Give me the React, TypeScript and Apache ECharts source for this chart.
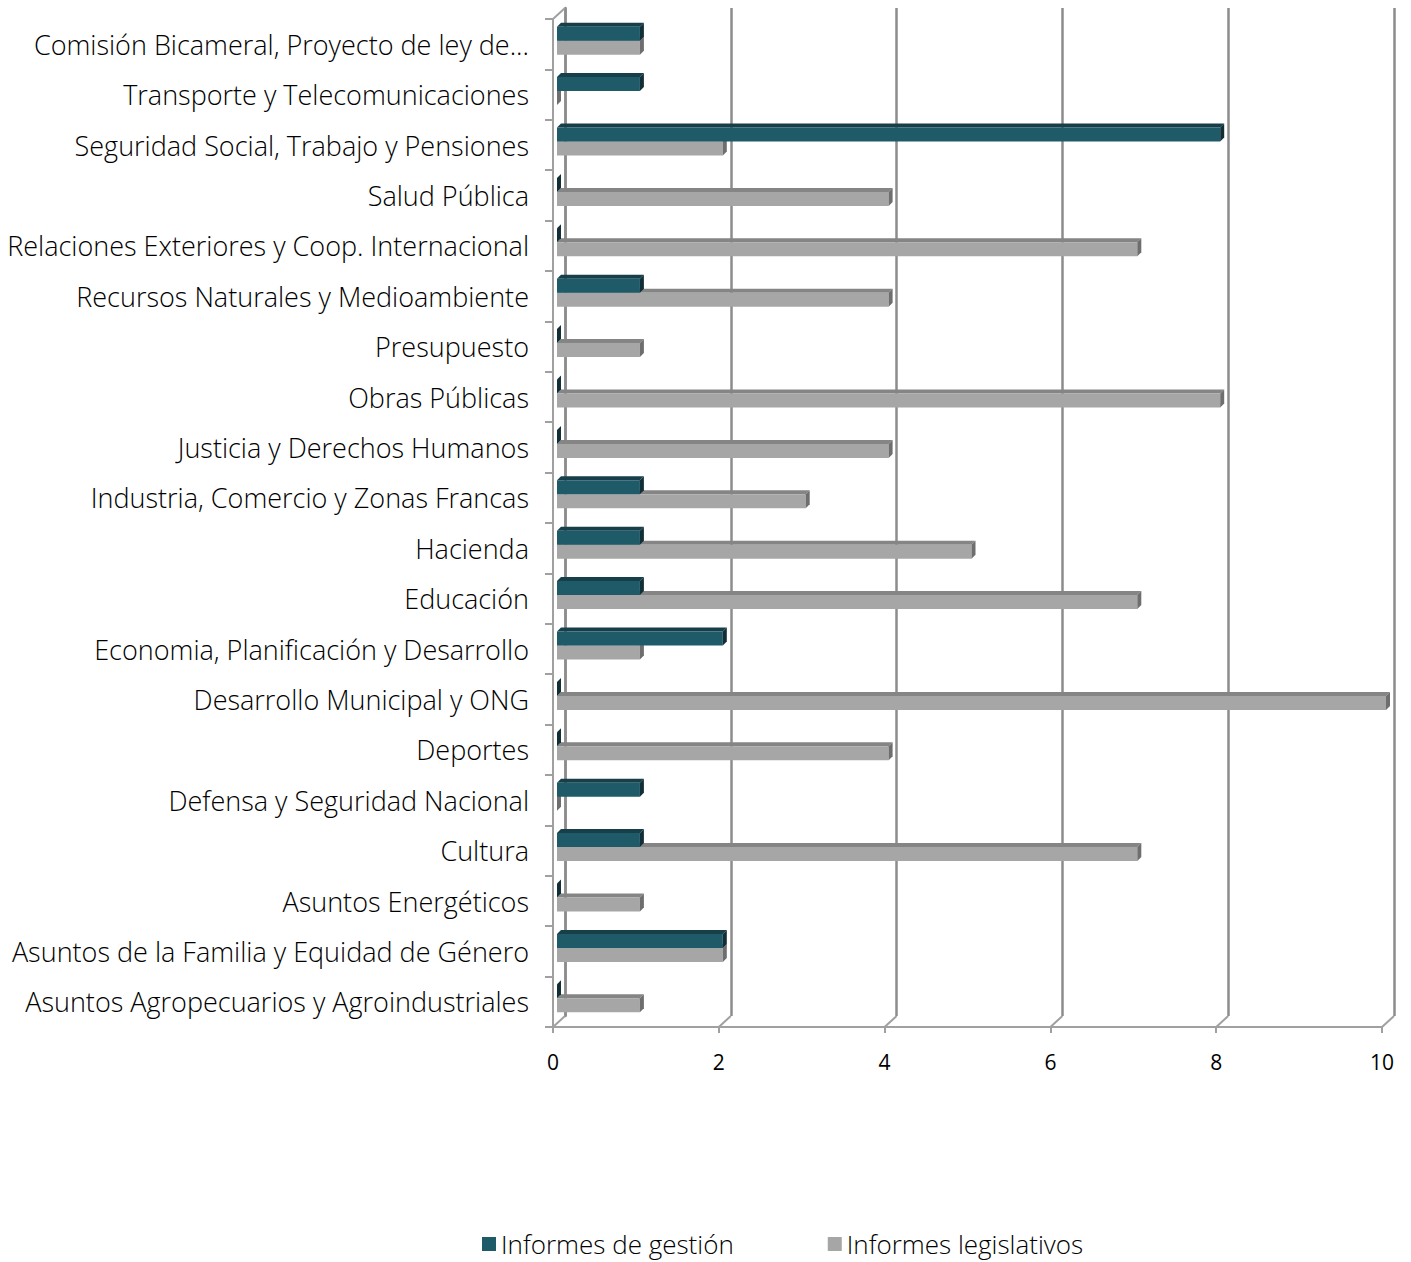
import React, { useEffect, useRef } from "react";
import * as echarts from "echarts";

const categories = [
  "Comisión Bicameral, Proyecto de ley de...",
  "Transporte y Telecomunicaciones",
  "Seguridad Social, Trabajo y Pensiones",
  "Salud Pública",
  "Relaciones Exteriores y Coop. Internacional",
  "Recursos Naturales y Medioambiente",
  "Presupuesto",
  "Obras Públicas",
  "Justicia y Derechos Humanos",
  "Industria, Comercio y Zonas Francas",
  "Hacienda",
  "Educación",
  "Economia, Planificación y Desarrollo",
  "Desarrollo Municipal y ONG",
  "Deportes",
  "Defensa y Seguridad Nacional",
  "Cultura",
  "Asuntos Energéticos",
  "Asuntos de la Familia y Equidad de Género",
  "Asuntos Agropecuarios y Agroindustriales",
];

const gestion = [1, 1, 8, 0, 0, 1, 0, 0, 0, 1, 1, 1, 2, 0, 0, 1, 1, 0, 2, 0];
const legislativos = [1, 0, 2, 4, 7, 4, 1, 8, 4, 3, 5, 7, 1, 10, 4, 0, 7, 1, 2, 1];
const xTicks = [0, 2, 4, 6, 8, 10];

const SERIES_NAMES = ["Informes de gestión", "Informes legislativos"];

const palette = {
  gestion: { front: "#1f5a69", top: "#163f4a", side: "#122f38" },
  legis: { front: "#a6a6a6", top: "#858585", side: "#6e6e6e" },
};

const FONT = "'Open Sans', 'Noto Sans', sans-serif";

function makeBarRenderer(slot: number, colors: { front: string; top: string; side: string }) {
  return (params: any, api: any) => {
    const v = api.value(0);
    const idx = api.value(1);
    const p0 = api.coord([0, idx]);
    const p1 = api.coord([v, idx]);
    const barH = 14;
    const dx = 4;
    const depth = 4;
    const yTop = p0[1] - 17.5 + slot * barH;
    const yBot = yTop + barH;
    const xl = p0[0] + dx;
    const xr = p1[0] + dx;
    const children: any[] = [];
    if (xr > xl) {
      children.push({
        type: "polygon",
        shape: { points: [[xl, yTop], [xr, yTop], [xr + depth, yTop - depth], [xl + depth, yTop - depth]] },
        style: { fill: colors.top },
      });
      children.push({
        type: "rect",
        shape: { x: xl, y: yTop, width: xr - xl, height: barH },
        style: { fill: colors.front },
      });
    }
    children.push({
      type: "polygon",
      shape: { points: [[xr, yTop], [xr + depth, yTop - depth], [xr + depth, yBot - depth], [xr, yBot]] },
      style: { fill: colors.side },
    });
    return { type: "group", children };
  };
}

export default function App() {
  const ref = useRef<HTMLDivElement>(null);
  useEffect(() => {
    if (!ref.current) return;
    const chart = echarts.init(ref.current, undefined, { renderer: "svg" });
    const lineColor = "#8c8c8c";
    const option: any = {
      animation: false,
      backgroundColor: "#ffffff",
      textStyle: { fontFamily: FONT },
      grid: [
        { left: 553, top: 19, width: 829, height: 1008, containLabel: false },
        { left: 565, top: 8, width: 829, height: 1008, containLabel: false },
      ],
      xAxis: [
        {
          gridIndex: 0,
          type: "value",
          min: 0,
          max: 10,
          interval: 2,
          axisLine: { show: true, lineStyle: { color: "#a0a0a0", width: 2 } },
          axisTick: { show: true, length: 6, lineStyle: { color: "#a0a0a0", width: 2 } },
          splitLine: { show: false },
          axisLabel: { color: "#000", fontSize: 21, margin: 24, fontFamily: FONT },
        },
        {
          gridIndex: 1,
          type: "value",
          min: 0,
          max: 10,
          interval: 2,
          axisLine: { show: false },
          axisTick: { show: false },
          axisLabel: { show: false },
          splitLine: { show: true, lineStyle: { color: lineColor, width: 2.5 } },
        },
      ],
      yAxis: [
        {
          gridIndex: 0,
          type: "category",
          data: categories,
          inverse: true,
          axisLine: { show: true, lineStyle: { color: "#a0a0a0", width: 2 } },
          axisTick: { show: true, length: 8, lineStyle: { color: "#a0a0a0", width: 2 } },
          axisLabel: { color: "#000", fontSize: 27, fontWeight: 300, margin: 24, fontFamily: FONT },
          splitLine: { show: false },
        },
        {
          gridIndex: 1,
          type: "value",
          min: 0,
          max: 1,
          axisLine: { show: true, lineStyle: { color: lineColor, width: 2.5 } },
          axisTick: { show: false },
          axisLabel: { show: false },
          splitLine: { show: false },
        },
      ],
      legend: {
        data: SERIES_NAMES,
        left: 477,
        top: 1224,
        itemWidth: 14,
        itemHeight: 14,
        itemGap: 94,
        icon: "rect",
        textStyle: { color: "#000", fontSize: 26, lineHeight: 30, fontWeight: 300, fontFamily: FONT },
      },
      series: [
        {
          name: "connectors",
          type: "custom",
          xAxisIndex: 1,
          yAxisIndex: 1,
          silent: true,
          z: 1,
          data: xTicks.map((v) => [v, 0]),
          encode: { x: 0, y: 1 },
          renderItem: (params: any, api: any) => {
            const v = api.value(0);
            const pb = api.coord([v, 0]);
            const children: any[] = [
              {
                type: "line",
                shape: { x1: pb[0], y1: pb[1], x2: pb[0] - 12, y2: pb[1] + 11 },
                style: { stroke: "#a0a0a0", lineWidth: 2 },
              },
            ];
            if (v === 0) {
              const pt = api.coord([v, 1]);
              children.push({
                type: "line",
                shape: { x1: pt[0], y1: pt[1], x2: pt[0] - 12, y2: pt[1] + 11 },
                style: { stroke: "#a0a0a0", lineWidth: 2 },
              });
            }
            return { type: "group", children };
          },
        },
        {
          name: SERIES_NAMES[1],
          type: "custom",
          xAxisIndex: 0,
          yAxisIndex: 0,
          z: 3,
          itemStyle: { color: palette.legis.front },
          data: legislativos.map((v, i) => [v, i]),
          encode: { x: 0, y: 1 },
          renderItem: makeBarRenderer(1, palette.legis),
        },
        {
          name: SERIES_NAMES[0],
          type: "custom",
          xAxisIndex: 0,
          yAxisIndex: 0,
          z: 4,
          itemStyle: { color: palette.gestion.front },
          data: gestion.map((v, i) => [v, i]),
          encode: { x: 0, y: 1 },
          renderItem: makeBarRenderer(0, palette.gestion),
        },
      ],
    };
    chart.setOption(option);
    return () => chart.dispose();
  }, []);
  return (
    <div
      ref={ref}
      style={{ position: "fixed", left: 0, top: 0, width: 1411, height: 1262, overflow: "hidden" }}
    />
  );
}
